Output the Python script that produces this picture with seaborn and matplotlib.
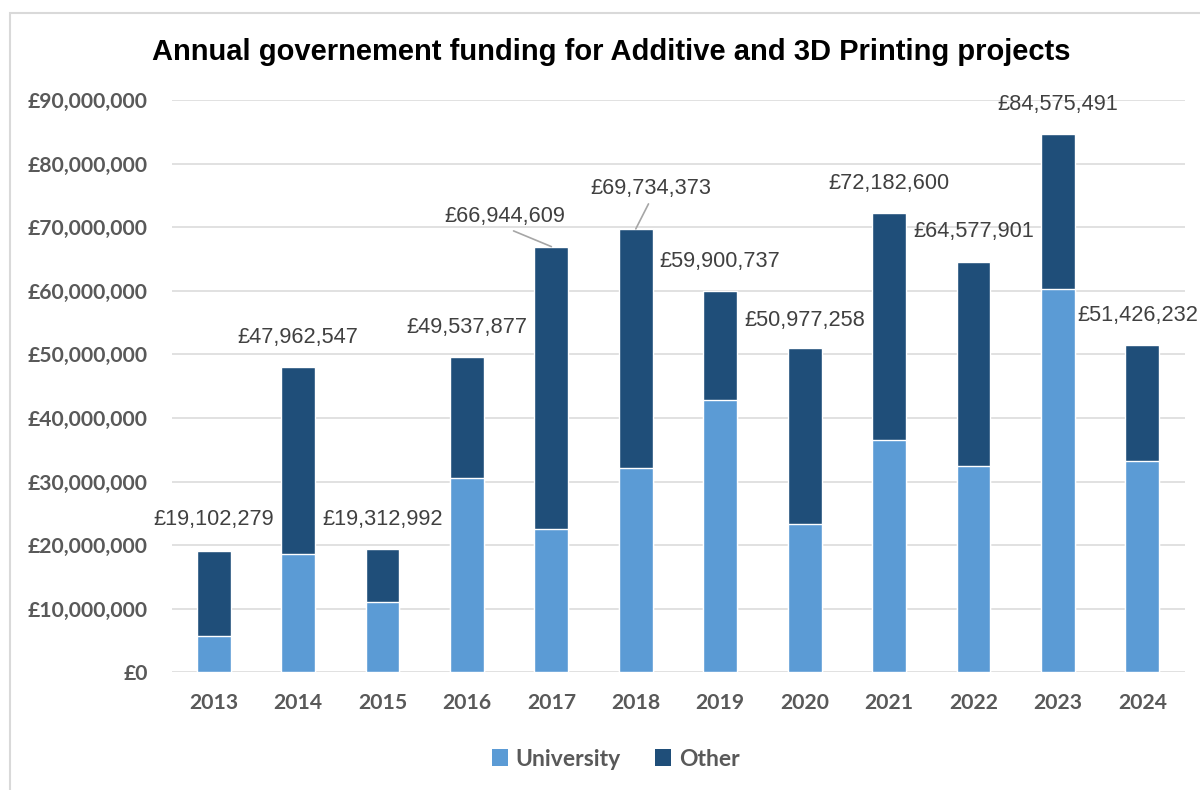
import matplotlib
matplotlib.use("Agg")
import matplotlib.pyplot as plt
from matplotlib.patches import Patch, Rectangle
from matplotlib.ticker import FuncFormatter
import seaborn as sns
import pandas as pd

# Funding per year (GBP)
years = ["2013", "2014", "2015", "2016", "2017", "2018",
         "2019", "2020", "2021", "2022", "2023", "2024"]
totals = [19102279, 47962547, 19312992, 49537877, 66944609, 69734373,
          59900737, 50977258, 72182600, 64577901, 84575491, 51426232]
university = [5700000, 18600000, 11100000, 30500000, 22500000, 32200000,
              42900000, 23300000, 36600000, 32500000, 60200000, 33300000]
series_names = ["University", "Other"]
y_ticks = [0, 10000000, 20000000, 30000000, 40000000, 50000000,
           60000000, 70000000, 80000000, 90000000]

UNI_COLOR = "#5B9BD5"
OTHER_COLOR = "#1F4E79"
GRID_COLOR = "#D9D9D9"
AXIS_TEXT = "#595959"
LABEL_TEXT = "#404040"

df = pd.DataFrame({"year": years, "total": totals, "university": university})

sns.set_theme(style="white")
plt.rcParams["font.family"] = ["Liberation Sans", "DejaVu Sans"]

fig = plt.figure(figsize=(12, 7.9), dpi=100)
fig.patch.set_facecolor("white")

# light outer frame of the chart area
fig.patches.append(Rectangle((10 / 1200, -0.05), 1.2, 1 - 13 / 790 + 0.05,
                             transform=fig.transFigure, fill=False,
                             edgecolor=GRID_COLOR, linewidth=1.5, zorder=0))

ax = fig.add_axes([171.5 / 1200, 1 - 672.3 / 790, 1013 / 1200, 572.3 / 790])

# stacked bars: full total in the "Other" colour, university share over it
sns.barplot(data=df, x="year", y="total", order=years, color=OTHER_COLOR,
            saturation=1, width=0.4, ax=ax, zorder=3)
sns.barplot(data=df, x="year", y="university", order=years, color=UNI_COLOR,
            saturation=1, width=0.4, ax=ax, zorder=4)

ax.set_xlim(-0.5, len(years) - 0.5)
ax.set_ylim(0, 90000000)
ax.set_yticks(y_ticks)
ax.yaxis.set_major_formatter(FuncFormatter(lambda v, _: f"£{v:,.0f}"))
ax.grid(axis="y", color=GRID_COLOR, linewidth=1.1, zorder=0)
ax.set_axisbelow(True)
for s in ax.spines.values():
    s.set_visible(False)
ax.set_xlabel("")
ax.set_ylabel("")
ax.tick_params(axis="both", length=0)
ax.tick_params(axis="y", pad=17)
ax.tick_params(axis="x", pad=15)
for lbl in ax.get_yticklabels() + ax.get_xticklabels():
    lbl.set_fontfamily(["Lato", "DejaVu Sans"])
    lbl.set_fontweight("bold")
    lbl.set_fontsize(15.2)
    lbl.set_color(AXIS_TEXT)

# total labels above each bar (pixel offsets; two use leader lines)
label_offsets = {0: (0, 31), 4: (-47, 30), 5: (15, 40), 7: (0, 28), 11: (-4, 30)}
leader_lines = {4, 5}
for i, tot in enumerate(totals):
    dx, dy = label_offsets.get(i, (0, 30))
    kw = {}
    if i in leader_lines:
        kw["arrowprops"] = dict(arrowstyle="-", color="#A6A6A6", lw=1.2,
                                relpos=(0.5, 0.0), shrinkA=1, shrinkB=0)
    ax.annotate(f"£{tot:,.0f}", xy=(i, tot), xytext=(dx, dy),
                textcoords="offset pixels", ha="center", va="center",
                fontsize=15.7, color=LABEL_TEXT, zorder=6,
                annotation_clip=False, **kw)

fig.text(611 / 1200, 1 - 52 / 790,
         "Annual governement funding for Additive and 3D Printing projects",
         ha="center", va="center", fontsize=21, fontweight="bold", color="black")

handles = [Patch(facecolor=UNI_COLOR, edgecolor="none"),
           Patch(facecolor=OTHER_COLOR, edgecolor="none")]
leg = fig.legend(handles, series_names, loc="center",
                 bbox_to_anchor=(616 / 1200, 1 - 759 / 790), ncol=2,
                 frameon=False, handlelength=0.7, handleheight=0.7,
                 handletextpad=0.35, columnspacing=1.5,
                 prop={"family": ["Lato", "DejaVu Sans"], "weight": "bold", "size": 16.5})
for t in leg.get_texts():
    t.set_color(AXIS_TEXT)

fig.savefig("out.png", dpi=100, facecolor="white")
